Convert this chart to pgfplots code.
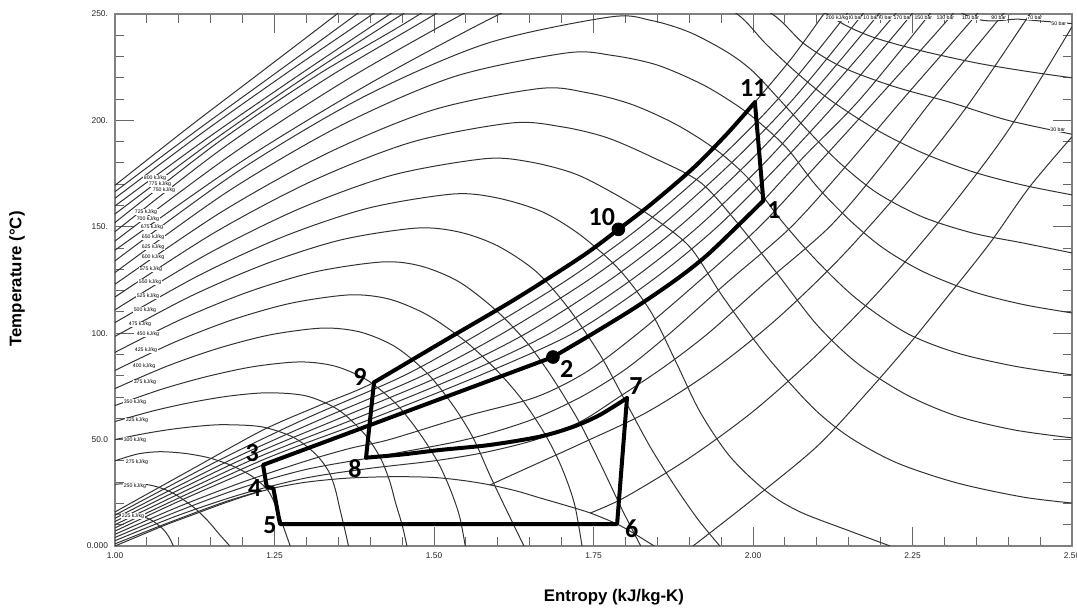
\documentclass[border=0pt]{standalone}
\usepackage{fontspec}
\setmainfont{Liberation Sans}
\newfontfamily\calibfont{Carlito}
\usepackage{pgfplots}
\pgfplotsset{compat=1.18}
\tikzset{
  thinl/.style={black!80, line width=0.5pt, smooth, tension=0.5},
  thick cyc/.style={black, line width=2pt, line join=round, line cap=round},
  lab/.style={font=\fontsize{2.6}{3}\selectfont, fill=white, inner sep=0.2pt},
}
\begin{document}
\begin{tikzpicture}[x=1pt,y=1pt]
\path[use as bounding box] (0,0) rectangle (538.5,304);
\begin{axis}[
  at={(57.5pt,31pt)}, anchor=south west,
  scale only axis, width=478.5pt, height=266pt,
  xmin=1, xmax=2.5, ymin=0, ymax=250,
  axis line style={draw=black!50, line width=0.6pt},
  tick pos=both, tick align=inside,
  xtick={1,1.25,1.5,1.75,2,2.25,2.5},
  xticklabels={1.00,1.25,1.50,1.75,2.00,2.25,2.50},
  ytick={0,50,100,150,200,250},
  yticklabels={0.000,50.0,100.,150.,200.,250.},
  minor x tick num=4, minor y tick num=4,
  major tick length=9.5pt, minor tick length=4.5pt,
  every tick/.style={black!60, line width=0.5pt},
  /pgf/number format/assume math mode=true,
  tick label style={font=\fontsize{4.2}{5}\selectfont, text=black!85},
  xlabel={Entropy (kJ/kg-K)}, ylabel={Temperature (°C)},
  label style={font=\fontsize{8.4}{10}\selectfont\bfseries},
  xlabel style={at={(axis description cs:0.5214,-0.0959)}, anchor=center},
  ylabel style={at={(axis description cs:-0.1024,0.502)}, anchor=center},
]
% ---------- saturation dome ----------
\addplot[thinl] coordinates {(1.0,0) (1.04,5) (1.08,10) (1.125,15) (1.17,20) (1.21,24) (1.25,27.3) (1.30,30) (1.36,31.8) (1.42,32.5) (1.47,32.5) (1.509,32) (1.55,30.6) (1.588,28.7) (1.63,25.8) (1.666,22.6) (1.705,19.2) (1.745,15.5) (1.787,10.3) (1.815,5.6) (1.845,0)};
% ---------- isenthalps ----------
\addplot[thinl] coordinates {(1.0,15) (1.03,14.6) (1.055,12.5) (1.075,8) (1.085,4) (1.0915,0)};
\addplot[thinl] coordinates {(1.0,29) (1.03,29.4) (1.06,28.3) (1.09,25) (1.122,18.5) (1.145,12) (1.165,5) (1.18,0)};
\addplot[thinl] coordinates {(1.0,40) (1.035,43.2) (1.07,44.3) (1.11,43.5) (1.149,41.3) (1.185,37.5) (1.216,32.5) (1.24,26) (1.253,18) (1.264,9) (1.2746,0)};
\addplot[thinl] coordinates {(1.0,50) (1.0425,52.6) (1.085,54.7) (1.1275,56.2) (1.17,57) (1.23,56) (1.28,51) (1.315,43) (1.335,35) (1.345,27) (1.352,18) (1.36,8) (1.366,0)};
\addplot[thinl] coordinates {(1.0,58.5) (1.06,63.5) (1.12,67.5) (1.18,70.5) (1.24,72) (1.30,70.5) (1.35,64) (1.39,53) (1.415,42) (1.43,31) (1.44,20) (1.45,10) (1.4576,0)};
\addplot[thinl] coordinates {(1.0,66) (1.0725,73.6) (1.145,79.7) (1.2175,84.3) (1.29,86.5) (1.345,84.5) (1.395,78) (1.44,67) (1.475,54) (1.505,40) (1.525,27) (1.54,14) (1.549,0)};
\addplot[thinl] coordinates {(1.0,74) (1.0815,84.5) (1.163,93) (1.2445,99.3) (1.326,102.4) (1.385,100.5) (1.44,93.5) (1.49,81) (1.53,66) (1.561,51) (1.588,33) (1.615,16) (1.641,0)};
\addplot[thinl] coordinates {(1.0,82.5) (1.092,95.6) (1.184,106.3) (1.276,114.1) (1.368,118) (1.43,116) (1.49,108.5) (1.55,96) (1.60,82) (1.64,68) (1.675,52) (1.70,37) (1.72,20) (1.732,0)};
\addplot[thinl] coordinates {(1.0,91) (1.105,106.7) (1.21,119.5) (1.315,128.9) (1.42,133.5) (1.48,131.5) (1.54,124) (1.60,110) (1.65,94) (1.69,77) (1.73,57) (1.765,36) (1.795,17) (1.824,0)};
\addplot[thinl] coordinates {(1.0,98.5) (1.118,117.3) (1.2365,132.6) (1.355,143.9) (1.473,149.4) (1.54,147.5) (1.60,141) (1.66,129) (1.71,112) (1.76,90) (1.80,68) (1.84,46) (1.88,27) (1.915,12) (1.948,0)};
\addplot[thinl] coordinates {(1.0,105) (1.1325,127.3) (1.265,145.5) (1.3975,158.8) (1.53,165.4) (1.60,163.5) (1.67,157) (1.73,146) (1.79,130) (1.84,110) (1.88,86) (1.917,63) (1.964,42) (2.022,25.4) (2.074,16) (2.152,7) (2.215,0)};
\addplot[thinl] coordinates {(1.0,111) (1.145,137.2) (1.29,158.6) (1.435,174.3) (1.58,182) (1.65,180.5) (1.72,175) (1.78,166) (1.84,155) (1.901,140.5) (1.953,117) (2.022,89) (2.094,65) (2.152,51) (2.226,39) (2.32,29.6) (2.423,23) (2.5,20.2)};
\addplot[thinl] coordinates {(1.0,117) (1.1555,147.2) (1.311,171.8) (1.4665,189.9) (1.622,198.8) (1.70,197) (1.77,192) (1.84,183) (1.917,171) (1.975,152) (2.038,128) (2.10,104) (2.163,86) (2.241,71) (2.32,61) (2.41,54.5) (2.5,50.8)};
\addplot[thinl] coordinates {(1.0,123) (1.1665,156.9) (1.333,184.6) (1.4995,205) (1.666,215) (1.74,213) (1.81,207.5) (1.88,198) (1.943,186) (1.995,172) (2.047,152) (2.10,134) (2.163,116) (2.241,100) (2.32,90.7) (2.41,84.5) (2.5,80.4)};
\addplot[thinl] coordinates {(1.0,128.5) (1.177,166.6) (1.354,197.6) (1.531,220.5) (1.708,231.7) (1.78,230.5) (1.85,226) (1.92,217) (1.97,208) (2.006,200) (2.053,187) (2.10,169) (2.152,153) (2.204,140) (2.266,129) (2.345,119.5) (2.423,113.5) (2.5,109.5)};
\addplot[thinl] coordinates {(1.0,134) (1.194,176.3) (1.388,210.8) (1.582,236.1) (1.776,248.6) (1.84,247) (1.90,241.5) (1.96,232) (2.0,223) (2.042,209.6) (2.085,195.5) (2.136,180) (2.194,166) (2.266,154.6) (2.345,147) (2.423,142.4) (2.5,137.7)};
\addplot[thinl] coordinates {(1.0,139) (1.201,181.2) (1.402,217.8) (1.603,250) (1.70,262) (1.80,266) (1.90,261) (1.975,250) (2.02,236) (2.07,222) (2.121,209.6) (2.194,195.5) (2.266,184.7) (2.345,175.8) (2.423,169.6) (2.5,165)};
\addplot[thinl] coordinates {(1.0,143.3) (1.1817,183.8) (1.3633,219.1) (1.545,250) (1.65,266) (1.80,276) (1.93,266) (2.03,250) (2.08,236) (2.14,225) (2.22,216) (2.309,208.5) (2.4,200) (2.5,193.5)};
\addplot[thinl] coordinates {(1.0,147.7) (1.1673,186.6) (1.3347,220.3) (1.502,250) (1.65,278) (1.85,290) (2.0,277) (2.116,250) (2.18,240) (2.26,233) (2.35,227) (2.43,223) (2.5,220)};
\addplot[thinl] coordinates {(1.0,152) (1.1593,189.2) (1.3187,221.6) (1.478,250) (1.65,285) (1.9,305) (2.15,290) (2.33,250) (2.42,247.5) (2.5,245.5)};
\addplot[thinl] coordinates {(1.0,156) (1.1503,189.8) (1.3007,220.9) (1.451,250) (1.55,268)};
\addplot[thinl] coordinates {(1.0,159.8) (1.1437,191.4) (1.2873,221.1) (1.431,250) (1.53,270)};
\addplot[thinl] coordinates {(1.0,163.4) (1.1347,193.7) (1.2693,222.3) (1.404,250) (1.5,271)};
\addplot[thinl] coordinates {(1.0,166.5) (1.1263,194.9) (1.2527,222.4) (1.379,250) (1.48,273)};
\addplot[thinl] coordinates {(1.0,169.5) (1.116,196.9) (1.232,223.4) (1.348,250) (1.45,274)};
% ---------- isobars ----------
\addplot[thinl] coordinates {(1.0,16) (1.12,36) (1.232,54.5) (1.32,66) (1.406,76.9) (1.525,98.0) (1.63,116.5) (1.734,136.5) (1.789,148.8) (1.8386,160.2) (1.906,177.5) (1.9587,193.5) (2.003,208.5) (2.06,229) (2.111,250) (2.14,262)};
\addplot[thinl] coordinates {(1.0,14.5) (1.161,40) (1.30,60) (1.4525,80) (1.572,100) (1.7085,125) (1.824,150) (1.94,180) (2.039,210) (2.147,250) (2.175,262)};
\addplot[thinl] coordinates {(1.0,13) (1.178,40) (1.326,60) (1.482,80) (1.608,100) (1.742,125) (1.854,150) (1.966,180) (2.063,210) (2.172,250) (2.2,262)};
\addplot[thinl] coordinates {(1.0,11.5) (1.194,40) (1.352,60) (1.5115,80) (1.645,100) (1.7755,125) (1.884,150) (1.992,180) (2.085,210) (2.197,250) (2.225,262)};
\addplot[thinl] coordinates {(1.0,10) (1.211,40) (1.378,60) (1.541,80) (1.682,100) (1.809,125) (1.914,150) (2.018,180) (2.108,210) (2.223,250) (2.25,262)};
\addplot[thinl] coordinates {(1.0,8.5) (1.228,40) (1.404,60) (1.5705,80) (1.718,100) (1.8425,125) (1.944,150) (2.044,180) (2.136,210) (2.249,250) (2.277,262)};
\addplot[thinl] coordinates {(1.0,7) (1.1,21) (1.18,31.5) (1.232,38.1) (1.3,45.7) (1.3945,56.2) (1.525,70.8) (1.6296,82.4) (1.6865,88.8) (1.75,100) (1.8177,112.5) (1.88,125.3) (1.9274,136.5) (1.98,151.6) (2.0162,162.3) (2.08,183) (2.168,210) (2.277,250) (2.305,262)};
\addplot[thinl] coordinates {(1.0,5.5) (1.1,18.5) (1.2,30) (1.3,40) (1.37,46) (1.43,50) (1.55,61) (1.66,70) (1.74,82) (1.82,100) (1.91,123) (2.01,150) (2.10,179) (2.194,210) (2.313,250) (2.34,262)};
\addplot[thinl] coordinates {(1.0,4) (1.1,16.5) (1.2,27.5) (1.3,36) (1.42,42.5) (1.55,50) (1.65,59) (1.73,70) (1.80,83) (1.87,100) (1.96,124) (2.06,150) (2.15,180) (2.235,210) (2.351,250) (2.38,262)};
\addplot[thinl] coordinates {(1.0,2.5) (1.1,14.5) (1.2,24.5) (1.3,32) (1.4,36.5) (1.5,40) (1.58,44) (1.66,50) (1.73,58.5) (1.79,70) (1.86,84) (1.93,100) (2.02,124) (2.12,150) (2.2,178) (2.282,210) (2.392,250) (2.42,262)};
\addplot[thinl] coordinates {(1.0,1) (1.08,10.5) (1.17,20.5) (1.23,26)};
\addplot[thinl] coordinates {(1.588,28.7) (1.634,35) (1.734,48.6) (1.834,62.9) (1.934,82) (2.034,105.8) (2.134,134.5) (2.234,168) (2.334,206) (2.434,250) (2.46,262)};
\addplot[thinl] coordinates {(1.745,15.5) (1.8,23) (1.9,41.3) (2.0,63.2) (2.1,89.8) (2.2,120.5) (2.3,155.5) (2.4,195.3) (2.5,244)};
\addplot[thinl] coordinates {(1.906,0) (2.0,22) (2.10,46.7) (2.178,71.8) (2.246,95.3) (2.309,118.7) (2.371,142.2) (2.434,168.9) (2.5,192.3)};
% ---------- line labels ----------
\node[lab] at (axis cs:1.0627,172.9) {800 kJ/kg};
\node[lab] at (axis cs:1.0705,170.2) {775 kJ/kg};
\node[lab] at (axis cs:1.0768,167.4) {750 kJ/kg};
\node[lab] at (axis cs:1.0486,156.9) {725 kJ/kg};
\node[lab] at (axis cs:1.0517,153.6) {700 kJ/kg};
\node[lab] at (axis cs:1.058,149.6) {675 kJ/kg};
\node[lab] at (axis cs:1.0596,145.2) {650 kJ/kg};
\node[lab] at (axis cs:1.0596,140.5) {625 kJ/kg};
\node[lab] at (axis cs:1.0596,135.8) {600 kJ/kg};
\node[lab] at (axis cs:1.0564,130.0) {575 kJ/kg};
\node[lab] at (axis cs:1.0549,124.1) {550 kJ/kg};
\node[lab] at (axis cs:1.0517,117.5) {525 kJ/kg};
\node[lab] at (axis cs:1.047,111.0) {500 kJ/kg};
\node[lab] at (axis cs:1.0392,104.1) {475 kJ/kg};
\node[lab] at (axis cs:1.0517,99.6) {450 kJ/kg};
\node[lab] at (axis cs:1.0486,92.1) {425 kJ/kg};
\node[lab] at (axis cs:1.0455,84.3) {400 kJ/kg};
\node[lab] at (axis cs:1.047,76.8) {375 kJ/kg};
\node[lab] at (axis cs:1.0313,67.8) {350 kJ/kg};
\node[lab] at (axis cs:1.0345,58.9) {325 kJ/kg};
\node[lab] at (axis cs:1.0313,49.8) {300 kJ/kg};
\node[lab] at (axis cs:1.0345,39.6) {275 kJ/kg};
\node[lab] at (axis cs:1.0313,28.3) {250 kJ/kg};
\node[lab] at (axis cs:1.0282,14.2) {225 kJ/kg};
\node[lab,anchor=east] at (axis cs:2.4545,248.1) {70 bar};
\node[lab,anchor=east] at (axis cs:2.3981,248.1) {90 bar};
\node[lab,anchor=east] at (axis cs:2.3558,248.1) {110 bar};
\node[lab,anchor=east] at (axis cs:2.3166,248.1) {130 bar};
\node[lab,anchor=east] at (axis cs:2.2821,248.1) {150 bar};
\node[lab,anchor=east] at (axis cs:2.2492,248.1) {170 bar};
\node[lab,anchor=east] at (axis cs:2.2194,248.1) {190 bar};
\node[lab,anchor=east] at (axis cs:2.1975,248.1) {210 bar};
\node[lab,anchor=east] at (axis cs:2.1724,248.1) {230 bar};
\node[lab,anchor=east] at (axis cs:2.1505,248.1) {200 kJ/kg};
\node[lab,anchor=east] at (axis cs:2.4922,245.6) {50 bar};
\node[lab,anchor=east] at (axis cs:2.4906,195.5) {30 bar};
% ---------- cycle ----------
\addplot[thick cyc, smooth, tension=0.5] coordinates {(1.406,76.9) (1.525,98.0) (1.63,116.5) (1.734,136.5) (1.789,148.8)};
\addplot[thick cyc, smooth, tension=0.5] coordinates {(1.789,148.8) (1.8386,160.2) (1.906,177.5) (1.9587,193.5) (2.003,208.5)};
\addplot[thick cyc] coordinates {(2.003,208.5) (2.0162,162.3)};
\addplot[thick cyc, smooth, tension=0.5] coordinates {(2.0162,162.3) (1.98,151.6) (1.9274,136.5) (1.88,125.3) (1.8177,112.5) (1.75,100) (1.6865,88.8)};
\addplot[thick cyc] coordinates {(1.6865,88.8) (1.232,38.1) (1.2378,27.9) (1.2482,27.1) (1.2586,10.3) (1.787,10.3) (1.8025,69.5)};
\addplot[thick cyc, smooth, tension=0.5] coordinates {(1.8025,69.5) (1.76,61.6) (1.718,56) (1.666,51.4) (1.588,47.5) (1.509,45.1) (1.45,43) (1.3935,41.5)};
\addplot[thick cyc] coordinates {(1.3935,41.5) (1.406,76.9)};
\addplot[only marks, mark=*, mark size=3.2pt, black] coordinates {(1.789,148.8) (1.6865,88.8)};
% ---------- state labels ----------
\begin{scope}[every node/.style={font=\calibfont\bfseries\fontsize{13}{14}\selectfont, inner sep=0pt}]
\node at (axis cs:2.0005,215.1) {11};
\node at (axis cs:2.033,157.9) {1};
\node at (axis cs:1.763,154.7) {10};
\node at (axis cs:1.708,83.2) {2};
\node at (axis cs:1.384,79.6) {9};
\node at (axis cs:1.8166,75.3) {7};
\node at (axis cs:1.376,36.5) {8};
\node at (axis cs:1.215,43.6) {3};
\node at (axis cs:1.219,27.1) {4};
\node at (axis cs:1.243,9.9) {5};
\node at (axis cs:1.81,7.9) {6};
\end{scope}
\end{axis}
\end{tikzpicture}
\end{document}
